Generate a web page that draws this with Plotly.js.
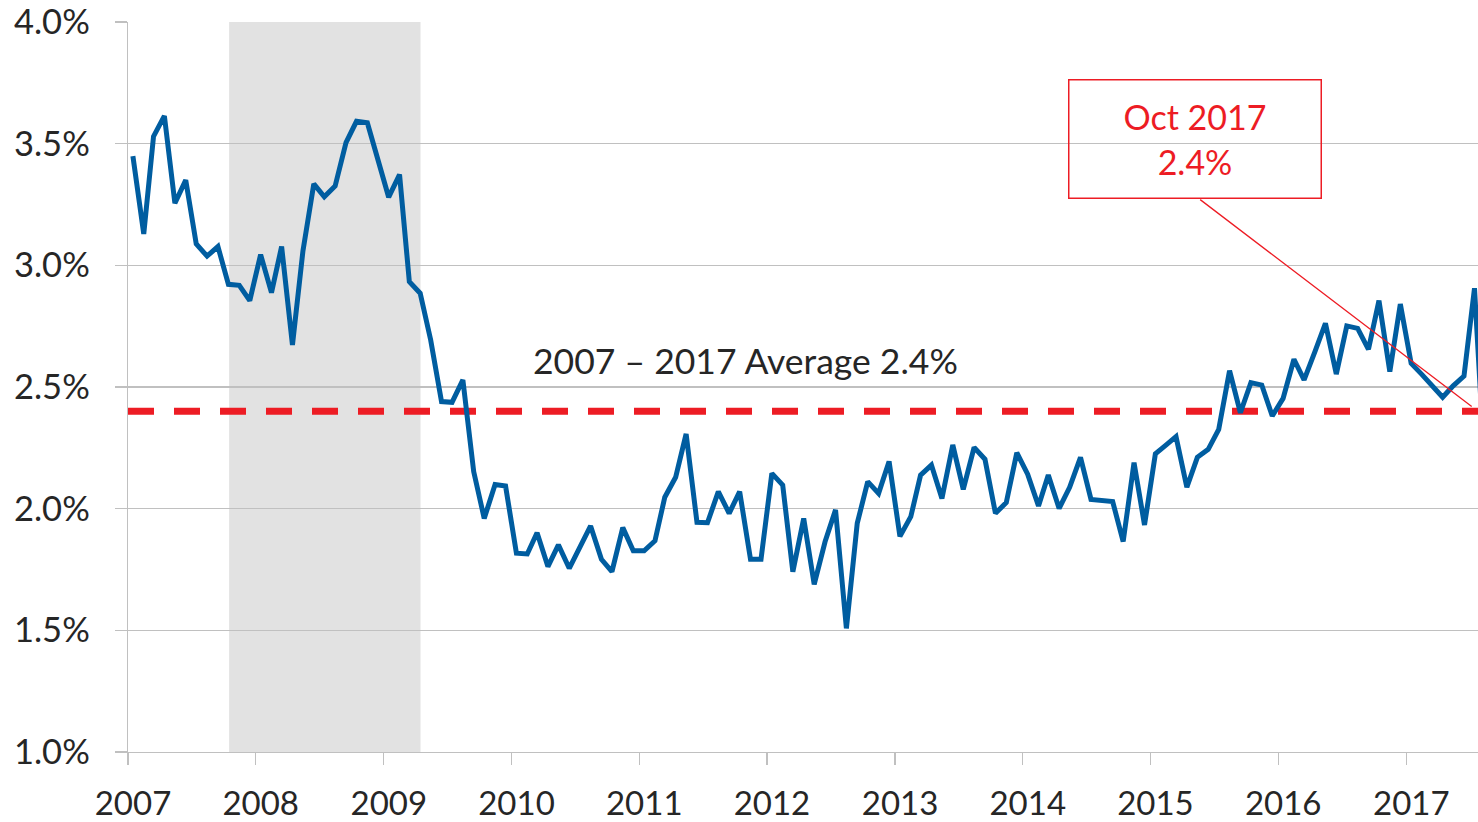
<!DOCTYPE html>
<html>
<head>
<meta charset="utf-8">
<script src="https://cdn.plot.ly/plotly-3.0.1.min.js"></script>
<style>
  html, body { margin: 0; padding: 0; background: #ffffff; }
  #chart { width: 1478px; height: 822px; }
</style>
</head>
<body>
<div id="chart"></div>
<script>
// Monthly rate (%), one array per year, Jan..Dec
const years = [2007, 2008, 2009, 2010, 2011, 2012, 2013, 2014, 2015, 2016, 2017];
const rate2007 = [3.449, 3.129, 3.530, 3.614, 3.255, 3.350, 3.088, 3.038, 3.077, 2.922, 2.918, 2.855];
const rate2008 = [3.044, 2.888, 3.077, 2.673, 3.060, 3.335, 3.282, 3.326, 3.504, 3.592, 3.586, 3.433];
const rate2009 = [3.280, 3.373, 2.933, 2.885, 2.693, 2.440, 2.437, 2.529, 2.152, 1.960, 2.099, 2.093];
const rate2010 = [1.817, 1.814, 1.901, 1.762, 1.851, 1.755, 1.844, 1.929, 1.792, 1.741, 1.922, 1.827];
const rate2011 = [1.827, 1.868, 2.047, 2.129, 2.307, 1.944, 1.942, 2.070, 1.981, 2.070, 1.792, 1.792];
const rate2012 = [2.145, 2.097, 1.741, 1.960, 1.689, 1.864, 1.995, 1.508, 1.940, 2.111, 2.063, 2.194];
const rate2013 = [1.886, 1.967, 2.138, 2.179, 2.042, 2.262, 2.079, 2.252, 2.203, 1.981, 2.025, 2.230];
const rate2014 = [2.142, 2.011, 2.138, 2.001, 2.088, 2.211, 2.038, 2.033, 2.029, 1.865, 2.189, 1.933];
const rate2015 = [2.225, 2.262, 2.296, 2.088, 2.211, 2.244, 2.326, 2.567, 2.394, 2.518, 2.508, 2.381];
const rate2016 = [2.453, 2.614, 2.529, 2.645, 2.762, 2.553, 2.751, 2.741, 2.655, 2.855, 2.563, 2.841];
const rate2017 = [2.597, 2.551, 2.504, 2.458, 2.505, 2.545, 2.906, 2.120, 2.300, 2.400];
const ratesByYear = [rate2007, rate2008, rate2009, rate2010, rate2011, rate2012, rate2013, rate2014, rate2015, rate2016, rate2017];

const avgRate = 2.4;
const avgLabel = "2007 \u2013 2017 Average 2.4%";
const calloutLabel = "Oct 2017<br>2.4%";
const recessionStart = "2007-10-17";
const recessionEnd = "2009-04-16";
const xStart = "2007-01-01";
const xEnd = "2017-07-25";
const yTicks = [1.0, 1.5, 2.0, 2.5, 3.0, 3.5, 4.0];
const yTickText = yTicks.map(v => v.toFixed(1) + "%");

// build monthly dates
const dates = [];
const values = [];
years.forEach((yr, k) => {
  ratesByYear[k].forEach((v, m) => {
    const mm = String(m + 1).padStart(2, "0");
    dates.push(`${yr}-${mm}-15`);
    values.push(v);
  });
});

const FONT = "Lato, 'Open Sans', sans-serif";
const TEXT = "#262626";
const GRID = "#C0C0C0";
const RED = "#ED1C24";
const BLUE = "#005DA0";

const traces = [
  {
    x: [xStart, xEnd],
    y: [avgRate, avgRate],
    mode: "lines",
    line: { color: RED, width: 7, dash: "26px,20px" },
    hoverinfo: "skip",
    showlegend: false
  },
  {
    x: dates,
    y: values,
    mode: "lines",
    line: { color: BLUE, width: 5 },
    showlegend: false
  }
];

const layout = {
  width: 1478,
  height: 822,
  margin: { l: 128, r: 0, t: 22, b: 70 },
  paper_bgcolor: "#ffffff",
  plot_bgcolor: "#ffffff",
  font: { family: FONT, size: 33, color: TEXT },
  showlegend: false,
  xaxis: {
    type: "date",
    range: [xStart, xEnd],
    tick0: "2007-01-01",
    dtick: "M12",
    tickformat: "%Y",
    ticks: "outside",
    ticklen: 12,
    tickwidth: 1.3,
    tickcolor: GRID,
    showgrid: false,
    showline: true,
    linecolor: GRID,
    linewidth: 1.3,
    zeroline: false,
    ticklabelshift: 5,
    ticklabelstandoff: 10,
    tickfont: { family: FONT, size: 33, color: TEXT },
    fixedrange: true
  },
  yaxis: {
    range: [1, 4],
    tickmode: "array",
    tickvals: yTicks,
    ticktext: yTickText,
    ticks: "outside",
    ticklen: 12,
    tickwidth: 1.3,
    tickcolor: GRID,
    showgrid: true,
    gridcolor: GRID,
    gridwidth: 1.3,
    showline: true,
    linecolor: GRID,
    linewidth: 1.3,
    zeroline: false,
    ticklabelstandoff: 18,
    tickfont: { family: FONT, size: 34.5, color: TEXT },
    fixedrange: true
  },
  shapes: [
    {
      type: "rect",
      xref: "x",
      yref: "paper",
      x0: recessionStart,
      x1: recessionEnd,
      y0: 0,
      y1: 1,
      fillcolor: "#E2E2E2",
      line: { width: 0 },
      layer: "below"
    }
  ],
  annotations: [
    {
      x: "2011-11-02",
      y: 2.61,
      xref: "x",
      yref: "y",
      text: avgLabel,
      showarrow: false,
      font: { family: FONT, size: 35.5, color: TEXT }
    },
    {
      x: "2015-05-08",
      y: 3.52,
      xref: "x",
      yref: "y",
      text: calloutLabel,
      showarrow: false,
      width: 251,
      height: 117,
      borderpad: 0,
      bordercolor: RED,
      borderwidth: 1.5,
      bgcolor: "rgba(255,255,255,0)",
      font: { family: FONT, size: 34, color: RED }
    },
    {
      x: "2017-07-07",
      y: 2.42,
      xref: "x",
      yref: "y",
      text: "",
      showarrow: true,
      arrowhead: 0,
      arrowwidth: 1.3,
      arrowcolor: RED,
      ax: -273,
      ay: -208,
      standoff: 0,
      startstandoff: 0
    }
  ]
};

Plotly.newPlot("chart", traces, layout, { displayModeBar: false, staticPlot: true });
</script>
</body>
</html>
